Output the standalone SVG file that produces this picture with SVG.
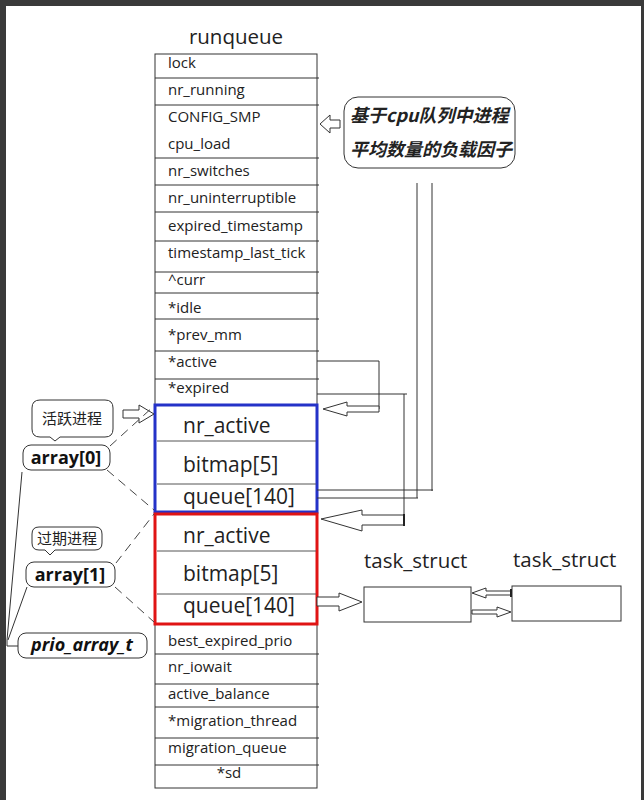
<svg xmlns="http://www.w3.org/2000/svg" width="644" height="800" viewBox="0 0 644 800">
<style>
.ln{stroke:#333;stroke-width:1;fill:none}
.t{font-family:"Open Sans","Liberation Sans",sans-serif;font-size:15px;fill:#222}
.big{font-family:"Open Sans","Liberation Sans",sans-serif;font-size:21px;fill:#222}
.title{font-family:"Open Sans","Liberation Sans",sans-serif;font-size:20.5px;fill:#222}
.lbl{font-family:"Open Sans","Liberation Sans",sans-serif;font-size:18px;font-weight:bold;fill:#111}
.cjk{font-family:"Noto Sans CJK SC",sans-serif;fill:#222}
.box{fill:#fff;stroke:#333;stroke-width:1}
.arr{fill:#fff;stroke:#333;stroke-width:1}
.dash{stroke:#444;stroke-width:1;stroke-dasharray:9 6;fill:none}
</style>
<rect x="0" y="0" width="644" height="800" fill="#3a3a3a"/>
<rect x="6" y="6" width="635" height="794" fill="#fff"/>

<text class="title" x="236" y="44" text-anchor="middle">runqueue</text>

<g id="runqueue">
<rect x="155" y="54" width="162" height="734" class="ln"/>
<path class="ln" d="M155,78H319M155,105H319M155,158H319M155,185H319M155,212H319M155,241H319M155,272H319M155,293H319M155,319H319M155,351H319M155,379H319M155,654H319M155,684H319M155,707H319M155,738H319M155,765H319"/>
<text class="t" x="168" y="68">lock</text>
<text class="t" x="168" y="95">nr_running</text>
<text class="t" x="168" y="122">CONFIG_SMP</text>
<text class="t" x="168" y="149">cpu_load</text>
<text class="t" x="168" y="176">nr_switches</text>
<text class="t" x="168" y="203">nr_uninterruptible</text>
<text class="t" x="168" y="231">expired_timestamp</text>
<text class="t" x="168" y="258">timestamp_last_tick</text>
<text class="t" x="168" y="285">^curr</text>
<text class="t" x="168" y="313">*idle</text>
<text class="t" x="168" y="340">*prev_mm</text>
<text class="t" x="168" y="367">*active</text>
<text class="t" x="168" y="393">*expired</text>
<text class="t" x="168" y="646">best_expired_prio</text>
<text class="t" x="168" y="672">nr_iowait</text>
<text class="t" x="168" y="699">active_balance</text>
<text class="t" x="168" y="726">*migration_thread</text>
<text class="t" x="168" y="753">migration_queue</text>
<text class="t" x="229" y="778" text-anchor="middle">*sd</text>
</g>

<g id="array0">
<rect x="155" y="405" width="162" height="107" fill="#fff" stroke="#2432c8" stroke-width="3"/>
<path stroke="#555" stroke-width="1" d="M157,441H316M157,484H316"/>
<text class="big" x="183" y="433">nr_active</text>
<text class="big" x="183" y="472">bitmap[5]</text>
<text class="big" x="183" y="504">queue[140]</text>
</g>

<g id="array1">
<rect x="155" y="514" width="162" height="110" fill="#fff" stroke="#e01414" stroke-width="3"/>
<path stroke="#555" stroke-width="1" d="M157,551H316M157,594H316"/>
<text class="big" x="183" y="543">nr_active</text>
<text class="big" x="183" y="581">bitmap[5]</text>
<text class="big" x="183" y="613">queue[140]</text>
</g>

<g id="cpu_load_note">
<rect x="344" y="97" width="171" height="71" rx="14" class="box"/>
<text class="cjk" x="350" y="122" font-size="18" font-weight="bold" font-style="italic">基于cpu队列中进程</text>
<text class="cjk" x="350" y="156" font-size="18" font-weight="bold" font-style="italic">平均数量的负载因子</text>
</g>

<g id="task1">
<text class="title" x="364" y="568">task_struct</text>
<rect x="364" y="587" width="107" height="35" class="box"/>
</g>
<g id="task2">
<text class="title" x="513" y="567">task_struct</text>
<rect x="512" y="586" width="109" height="35" class="box"/>
</g>

<g id="active_label">
<path class="box" d="M40,400H105Q113,400 113,408V429Q113,437 105,437H60L55,441L50,437H40Q32,437 32,429V408Q32,400 40,400Z"/>
<text class="cjk" x="72" y="424" font-size="15" text-anchor="middle">活跃进程</text>
</g>
<g id="array0_label">
<rect x="23" y="445" width="87" height="25" rx="8" class="box"/>
<text class="lbl" x="66" y="464" text-anchor="middle">array[0]</text>
</g>
<g id="expired_label">
<path class="box" d="M39,527H95Q102,527 102,534V543Q102,550 95,550H55L50,555L45,550H39Q32,550 32,543V534Q32,527 39,527Z"/>
<text class="cjk" x="67" y="544" font-size="15" text-anchor="middle">过期进程</text>
</g>
<g id="array1_label">
<rect x="26" y="562" width="89" height="25" rx="8" class="box"/>
<text class="lbl" x="70" y="581" text-anchor="middle">array[1]</text>
</g>
<g id="prio_array_t">
<rect x="18" y="633" width="129" height="25" rx="8" class="box"/>
<text class="lbl" x="82" y="651" text-anchor="middle" font-size="19" font-style="italic">prio_array_t</text>
</g>

<g id="connectors">
<polygon class="arr" points="340,120 330,120 330,115 320,124 330,133 330,128 340,128"/>
<path class="ln" d="M317,361H379V409"/>
<polygon class="arr" points="379,406 347,406 347,402 323,409 347,416 347,412 379,412"/>
<path class="ln" d="M317,394H407M404,394V515"/>
<polygon class="arr" points="404,515 362,515 362,510 321,519 362,531 362,525 404,525"/>
<path stroke="#222" stroke-width="2" d="M404,514V526"/>
<path class="ln" d="M432,183V491M317,490H433M417,183V498M317,498H418"/>
<polygon class="arr" points="317,597 339,597 339,593 362,602 339,611 339,606 317,606"/>
<polygon class="arr" points="511,591 486,591 486,588 472,593 486,598 486,595 511,595"/>
<path stroke="#222" stroke-width="2" d="M511,589V597"/>
<polygon class="arr" points="472,610 497,610 497,607 511,612 497,617 497,614 472,614"/>
<polygon class="arr" points="123,410 139,410 139,405 154,414 139,423 139,418 123,418"/>
<path class="dash" d="M110,446L154,406M107,470L154,510M116,563L154,514M115,587L154,622"/>
<path class="ln" d="M22,472L7,640V646H18M27,587L8,640"/>
</g>
</svg>
